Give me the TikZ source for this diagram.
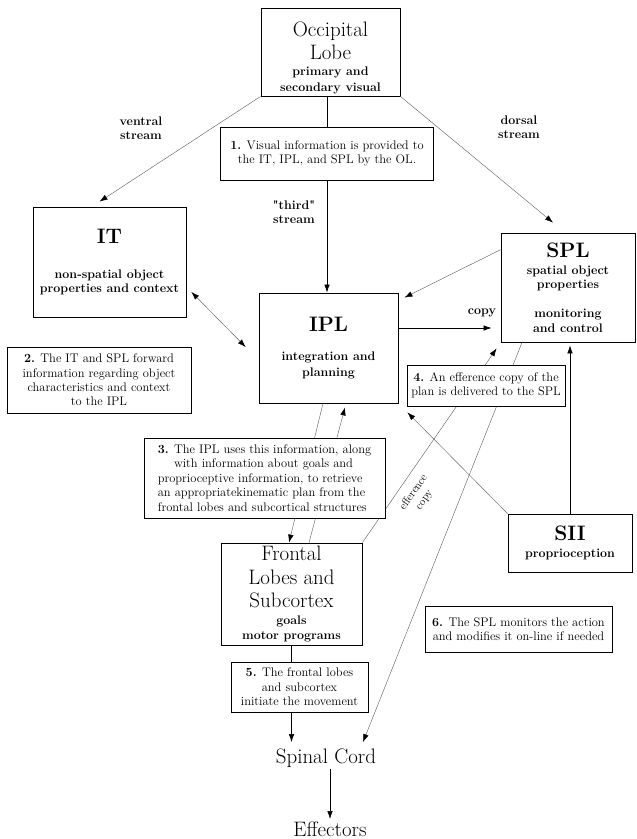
\documentclass[tikz,border=0pt]{standalone}
\usepackage{tikz}
\usetikzlibrary{arrows.meta}

\newcommand\lobefont{\fontsize{21}{23.5}\selectfont}
\newcommand\tagfont{\bfseries\fontsize{12.5}{14.5}\selectfont}

\begin{document}
\begin{tikzpicture}[
  x=1bp, y=-1bp,
  >={Latex[length=8bp,width=5.5bp]},
  line width=0.6bp,
  box/.style={draw, line width=0.8bp, fill=white, align=center, inner sep=0pt, font=\tagfont},
  note/.style={box, font=\fontsize{12.5}{14.5}\selectfont},
  lbl/.style={align=center, inner sep=1bp, font=\tagfont},
  faint/.style={line width=0.45bp, draw=black!60,
                >={Latex[length=8bp,width=5.5bp,color=black]}}]
\useasboundingbox (0,0) rectangle (637,839);
\node[box, minimum width=139bp, minimum height=88bp] (occ) at (330.5,52)
  {\mbox{}\\[11bp]{\lobefont\mdseries Occipital}\\[4bp]{\lobefont\mdseries Lobe}\\[1.5bp]primary and\\[1.5bp]secondary visual};
\node[note, minimum width=213bp, minimum height=53bp] (s1) at (327,153.5)
  {\textbf{1.} Visual information is provided to\\the IT, IPL, and SPL by the OL.};
\node[box, minimum width=153bp, minimum height=110bp] (it) at (109.5,262)
  {{\lobefont IT}\\[21bp]non-spatial object\\properties and context};
\node[box, minimum width=134bp, minimum height=109bp] (spl) at (568,287.5)
  {{\lobefont SPL}\\[2.5bp]spatial object\\properties\\[14.5bp]monitoring\\and control};
\node[box, minimum width=139bp, minimum height=110bp] (ipl) at (328.5,348)
  {{\lobefont IPL}\\[14.5bp]integration and\\[1.5bp]planning};
\node[note, minimum width=184bp, minimum height=66bp] (s2) at (99,380)
  {\textbf{2.} The IT and SPL forward\\information regarding object\\characteristics and context\\to the IPL};
\node[box, minimum width=124bp, minimum height=58bp] (sii) at (570,543)
  {{\lobefont SII}\\[2.5bp]proprioception};
\node[box, minimum width=141bp, minimum height=102bp] (fl) at (291.5,594)
  {{\lobefont\mdseries Frontal}\\[7.5bp]{\lobefont\mdseries Lobes and}\\[8bp]{\lobefont\mdseries Subcortex}\\[2.5bp]goals\\motor programs};
\node[note, minimum width=187bp, minimum height=46bp] (s6) at (518.5,629)
  {\textbf{6.} The SPL monitors the action\\and modifies it on-line if needed};
\node[note, minimum width=137bp, minimum height=50bp] (s5) at (299.5,687)
  {\textbf{5.} The frontal lobes\\and subcortex\\initiate the movement};
\node[anchor=base, inner sep=2bp, font=\lobefont] (spinal) at (326,763) {Spinal Cord};
\node[anchor=base, inner sep=2bp, font=\lobefont] (eff) at (330,836) {Effectors};

\node[lbl] (vent) at (141,128) {ventral\\stream};
\node[lbl] (dors) at (519,127) {dorsal\\stream};
\node[lbl] (third) at (294,212) {\textquotedbl third\textquotedbl\\stream};
\node[lbl] (cpy) at (482,313) {copy};

\draw (s1.north) -- (s1.north |- occ.south);
\draw[->] (s1.south) -- (s1.south |- ipl.north);
\draw[->, faint] (occ.south west) -- ([xshift=-10bp,yshift=5bp]it.north);
\draw[->, faint] (occ.south east) -- ([xshift=-15bp,yshift=10bp]spl.north);
\draw[<->, faint] ([xshift=5bp,yshift=-30bp]it.east) -- ([xshift=-13bp,yshift=1bp]ipl.west);
\draw[->, faint] ([yshift=-17bp]spl.north west) -- ([xshift=6bp,yshift=-5bp]ipl.north east);
\draw[->] ([yshift=20bp]ipl.east) -- ([xshift=-9bp,yshift=20bp]ipl.east -| spl.west);
\draw[->, faint] ([xshift=-5.5bp]ipl.south) -- ([xshift=-2.5bp]fl.north);
\draw[->, faint] ([xshift=17.5bp]fl.north) -- ([xshift=16.5bp,yshift=-4bp]ipl.south);
\draw[->, faint] (fl.north east) -- ([xshift=-4bp,yshift=-6bp]spl.south west);
\draw[->, faint] ([xshift=-46bp]spl.south) -- ([xshift=37bp,yshift=4bp]spinal.north);
\draw[->, faint] (sii.north west) -- ([xshift=9bp,yshift=-9bp]ipl.south east);
\draw[->] (sii.north) -- ([yshift=-3bp]sii.north |- spl.south);
\draw (fl.south) -- (fl.south |- s5.north);
\draw[->] (fl.south |- s5.south) -- ([yshift=4bp]fl.south |- spinal.north);
\draw[->] (eff.north |- spinal.south) -- (eff.north);

\node[note, minimum width=158bp, minimum height=41bp] (s4) at (486,385.5)
  {\textbf{4.} An efference copy of the\\plan is delivered to the SPL};
\node[note, align=left, minimum width=241bp, minimum height=80bp, inner xsep=2bp] (s3) at (264.5,478)
  {\textbf{3.} The IPL uses this information, along\\
   \hspace*{1.3em}with information about goals and\\
   proprioceptive information, to retrieve\\
   an appropriatekinematic plan from the\\
   frontal lobes and subcortical structures};
\node[rotate=55, align=center, inner sep=0pt, font=\fontsize{11}{13}\selectfont] (eflbl) at (419,496) {efference\\copy};
\end{tikzpicture}
\end{document}
